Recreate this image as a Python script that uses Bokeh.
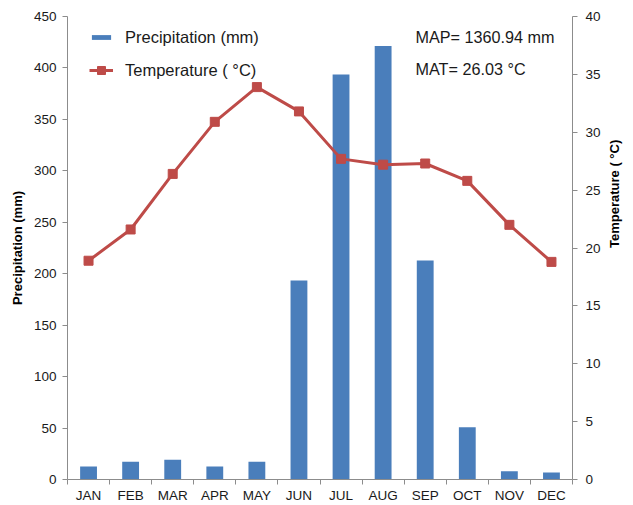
import math
from bokeh.plotting import figure
from bokeh.models import (Range1d, LinearAxis, FixedTicker, Legend, LegendItem,
                          Label, ColumnDataSource)
from bokeh.embed import file_html
from bokeh.resources import INLINE

months = ["JAN", "FEB", "MAR", "APR", "MAY", "JUN", "JUL", "AUG", "SEP", "OCT", "NOV", "DEC"]
precip_mm = [12.6, 17.2, 19.1, 12.6, 17.2, 193.4, 393.6, 421.4, 212.8, 50.8, 8.1, 6.8]
temp_c = [18.9, 21.6, 26.4, 30.9, 33.9, 31.8, 27.7, 27.2, 27.3, 25.8, 22.0, 18.8]
precip_ticks = [0, 50, 100, 150, 200, 250, 300, 350, 400, 450]
temp_ticks = [0, 5, 10, 15, 20, 25, 30, 35, 40]
map_text = "MAP= 1360.94 mm"
mat_text = "MAT= 26.03 °C"

pos = list(range(1, len(months) + 1))
src = ColumnDataSource(dict(x=pos, month=months, p=precip_mm, t=temp_c))

FONT = "Liberation Sans"
BLUE = "#4A7EBB"
RED = "#BE4B48"
AXIS = "#8C8C8C"
TXT = "#1A1A1A"
TICK_FS = "13.5px"

p = figure(width=633, height=505, output_backend="svg", toolbar_location=None,
           x_range=Range1d(0.5, 12.5), y_range=Range1d(0, 450),
           min_border_left=67, min_border_right=61, min_border_top=16, min_border_bottom=26)
p.extra_y_ranges = {"temp": Range1d(0, 40)}
p.outline_line_color = None
p.xgrid.grid_line_color = None
p.ygrid.grid_line_color = None
p.background_fill_color = "white"
p.border_fill_color = "white"

bars = p.vbar(x="x", top="p", width=0.4, source=src, fill_color=BLUE, line_color=None)
line = p.line(x="x", y="t", source=src, y_range_name="temp", line_color=RED, line_width=3)
pts = p.scatter(x="x", y="t", source=src, y_range_name="temp", marker="square",
                size=9, fill_color=RED, line_color=RED)

# x axis
xa = p.xaxis[0]
xa.ticker = FixedTicker(ticks=pos, minor_ticks=[i + 0.5 for i in range(0, 13)])
xa.major_label_overrides = {i: m for i, m in zip(pos, months)}
xa.major_tick_out = 0
xa.major_tick_in = 0
xa.minor_tick_out = 5
xa.minor_tick_in = 0
xa.minor_tick_line_color = AXIS
xa.axis_line_color = AXIS
xa.major_label_standoff = 3
xa.major_label_text_font = FONT
xa.major_label_text_font_size = TICK_FS
xa.major_label_text_color = TXT

# left axis
ya = p.yaxis[0]
ya.ticker = FixedTicker(ticks=precip_ticks)
ya.axis_label = "Precipitation (mm)"
ya.axis_label_text_font = FONT
ya.axis_label_text_font_style = "bold"
ya.axis_label_text_font_size = "13px"
ya.axis_label_text_color = "black"
ya.axis_label_standoff = 6
ya.major_tick_out = 5
ya.major_tick_in = 0
ya.minor_tick_out = 0
ya.minor_tick_in = 0
ya.major_tick_line_color = AXIS
ya.axis_line_color = AXIS
ya.major_label_standoff = 6
ya.major_label_text_font = FONT
ya.major_label_text_font_size = TICK_FS
ya.major_label_text_color = TXT

# right axis
ra = LinearAxis(y_range_name="temp", ticker=FixedTicker(ticks=temp_ticks))
ra.axis_label = "Temperature ( °C)"
ra.axis_label_text_font = FONT
ra.axis_label_text_font_style = "bold"
ra.axis_label_text_font_size = "13px"
ra.axis_label_text_color = "black"
ra.axis_label_standoff = 11
ra.major_tick_out = 5
ra.major_tick_in = 0
ra.minor_tick_out = 0
ra.minor_tick_in = 0
ra.major_tick_line_color = AXIS
ra.axis_line_color = AXIS
ra.major_label_standoff = 8
ra.major_label_text_font = FONT
ra.major_label_text_font_size = TICK_FS
ra.major_label_text_color = TXT
if "axis_label_orientation" in ra.properties():
    ra.axis_label_orientation = math.pi / 2
p.add_layout(ra, "right")

# legends
leg1 = Legend(items=[LegendItem(label="Precipitation (mm)", renderers=[bars])],
              location=(22, 432), glyph_width=24, glyph_height=6, label_height=20,
              label_standoff=12, padding=0, margin=0, spacing=0,
              border_line_color=None, background_fill_alpha=0,
              label_text_font=FONT, label_text_font_size="16.5px", label_text_color=TXT)
leg2 = Legend(items=[LegendItem(label="Temperature ( °C)", renderers=[line, pts])],
              location=(22, 399), glyph_width=24, glyph_height=20, label_height=20,
              label_standoff=12, padding=0, margin=0, spacing=0,
              border_line_color=None, background_fill_alpha=0,
              label_text_font=FONT, label_text_font_size="16.5px", label_text_color=TXT)
p.add_layout(leg1)
p.add_layout(leg2)

for txt, yv in [(map_text, 429.6), (mat_text, 399.4)]:
    p.add_layout(Label(x=8.77, y=yv, text=txt, text_font=FONT, text_font_size="16.2px",
                       text_color=TXT, text_baseline="middle", text_align="left"))

open("out.html", "w").write(file_html(p, INLINE))
